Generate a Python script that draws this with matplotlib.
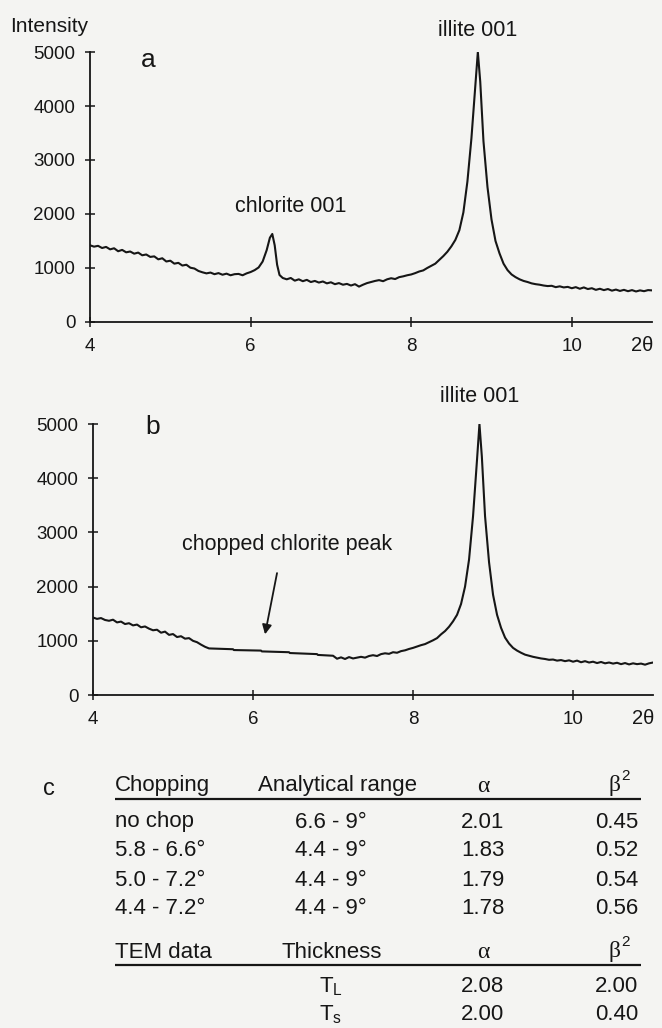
import matplotlib
matplotlib.use('Agg')
import matplotlib.pyplot as plt
from matplotlib.transforms import offset_copy

plt.rcParams['font.family'] = ['Liberation Sans', 'DejaVu Sans']

INK = '#161616'
PAPER = '#f4f4f2'

# panel a: full pattern (2theta, intensity)
two_theta_a = [
    4.00, 4.05, 4.10, 4.15, 4.20, 4.25, 4.30, 4.35, 4.40, 4.45,
    4.50, 4.55, 4.60, 4.65, 4.70, 4.75, 4.80, 4.85, 4.90, 4.95,
    5.00, 5.05, 5.10, 5.15, 5.20, 5.25, 5.30, 5.35, 5.40, 5.45,
    5.50, 5.55, 5.60, 5.65, 5.70, 5.75, 5.80, 5.85, 5.90, 5.95,
    6.00, 6.05, 6.10, 6.15, 6.20, 6.24, 6.27, 6.30, 6.33, 6.36,
    6.40, 6.45, 6.50, 6.55, 6.60, 6.65, 6.70, 6.75, 6.80, 6.85,
    6.90, 6.95, 7.00, 7.05, 7.10, 7.15, 7.20, 7.25, 7.30, 7.35,
    7.40, 7.45, 7.50, 7.55, 7.60, 7.65, 7.70, 7.75, 7.80, 7.85,
    7.90, 7.95, 8.00, 8.05, 8.10, 8.15, 8.20, 8.25, 8.30, 8.35,
    8.40, 8.45, 8.50, 8.55, 8.60, 8.65, 8.70, 8.75, 8.80, 8.83,
    8.86, 8.90, 8.95, 9.00, 9.05, 9.10, 9.15, 9.20, 9.25, 9.30,
    9.35, 9.40, 9.45, 9.50, 9.55, 9.60, 9.65, 9.70, 9.75, 9.80,
    9.85, 9.90, 9.95, 10.00, 10.05, 10.10, 10.15, 10.20, 10.25, 10.30,
    10.35, 10.40, 10.45, 10.50, 10.55, 10.60, 10.65, 10.70, 10.75, 10.80,
    10.85, 10.90, 10.95, 11.00,
]
intensity_a = [
    1420, 1395, 1410, 1370, 1390, 1345, 1365, 1310, 1335, 1290,
    1305, 1265, 1285, 1235, 1250, 1205, 1215, 1160, 1180, 1120,
    1135, 1080, 1095, 1045, 1060, 1005, 990, 945, 920, 900,
    915, 885, 905, 875, 895, 865, 885, 890, 865, 900,
    925, 960, 1010, 1120, 1330, 1560, 1630, 1420, 1060, 870,
    815, 790, 815, 765, 790, 755, 780, 740, 760, 730,
    750, 715, 735, 700, 720, 690, 705, 675, 700, 655,
    690, 720, 740, 760, 775, 755, 790, 810, 795, 830,
    845, 865, 880, 905, 935, 955, 1000, 1040, 1080, 1150,
    1220, 1300, 1400, 1520, 1700, 2030, 2600, 3400, 4400, 5000,
    4450, 3350, 2500, 1900, 1500, 1270, 1080, 960, 880, 830,
    790, 760, 740, 715, 700, 690, 675, 665, 670, 645,
    660, 640, 650, 625, 645, 615, 640, 610, 625, 595,
    615, 590, 610, 580, 600, 575, 595, 570, 590, 565,
    585, 570, 590, 585,
]

# panel b: pattern with chlorite region chopped out (flat steps)
two_theta_b = [
    4.00, 4.05, 4.10, 4.15, 4.20, 4.25, 4.30, 4.35, 4.40, 4.45,
    4.50, 4.55, 4.60, 4.65, 4.70, 4.75, 4.80, 4.85, 4.90, 4.95,
    5.00, 5.05, 5.10, 5.15, 5.20, 5.25, 5.30, 5.35, 5.40, 5.45,
    5.75, 5.76, 6.10, 6.11, 6.45, 6.46, 6.80, 6.81, 7.00, 7.05,
    7.10, 7.15, 7.20, 7.25, 7.30, 7.35, 7.40, 7.45, 7.50, 7.55,
    7.60, 7.65, 7.70, 7.75, 7.80, 7.85, 7.90, 7.95, 8.00, 8.05,
    8.10, 8.15, 8.20, 8.25, 8.30, 8.35, 8.40, 8.45, 8.50, 8.55,
    8.60, 8.65, 8.70, 8.75, 8.80, 8.83, 8.86, 8.90, 8.95, 9.00,
    9.05, 9.10, 9.15, 9.20, 9.25, 9.30, 9.35, 9.40, 9.45, 9.50,
    9.55, 9.60, 9.65, 9.70, 9.75, 9.80, 9.85, 9.90, 9.95, 10.00,
    10.05, 10.10, 10.15, 10.20, 10.25, 10.30, 10.35, 10.40, 10.45, 10.50,
    10.55, 10.60, 10.65, 10.70, 10.75, 10.80, 10.85, 10.90, 10.95, 11.00,
]
intensity_b = [
    1430, 1405, 1420, 1385, 1370, 1390, 1340, 1355, 1310, 1325,
    1285, 1300, 1250, 1265, 1225, 1195, 1205, 1150, 1170, 1110,
    1125, 1070, 1085, 1040, 1050, 1000, 975, 930, 890, 860,
    845, 830, 820, 805, 790, 775, 755, 740, 725, 670,
    695, 665, 700, 675, 690, 705, 690, 720, 735, 720,
    755, 770, 760, 790, 780, 810, 825, 850, 870, 895,
    920, 940, 975, 1010, 1050, 1120, 1180, 1260, 1360, 1480,
    1680, 2000, 2500, 3300, 4350, 5000, 4400, 3300, 2450, 1850,
    1480, 1240, 1060, 950, 870, 820, 780, 745, 725, 705,
    690, 675, 665, 650, 655, 635, 645, 625, 640, 615,
    635, 605, 625, 600, 615, 590, 610, 585, 600, 580,
    595, 570, 590, 565, 585, 570, 580, 560, 585, 600,
]

y_ticks = [0, 1000, 2000, 3000, 4000, 5000]
x_ticks = [4, 6, 8, 10]
x_tick_labels = ['4', '6', '8', '10']

# table c
chop_header = ['Chopping', 'Analytical range', '\u03b1', '\u03b2']
chopping = ['no chop', '5.8 - 6.6\u00b0', '5.0 - 7.2\u00b0', '4.4 - 7.2\u00b0']
analytical_range = ['6.6 - 9\u00b0', '4.4 - 9\u00b0', '4.4 - 9\u00b0', '4.4 - 9\u00b0']
alpha_chop = [2.01, 1.83, 1.79, 1.78]
beta2_chop = [0.45, 0.52, 0.54, 0.56]
tem_header = ['TEM data', 'Thickness', '\u03b1', '\u03b2']
tem_thickness = ['L', 's']
alpha_tem = [2.08, 2.00]
beta2_tem = [2.00, 0.40]


def draw_pattern(ax, two_theta, intensity):
    ax.plot(two_theta, intensity, color=INK, lw=1.5, solid_joinstyle='round')
    ax.set_xlim(4, 11)
    ax.set_ylim(0, 5000)
    ax.set_facecolor('none')
    for side in ['top', 'right']:
        ax.spines[side].set_visible(False)
    for side in ['left', 'bottom']:
        ax.spines[side].set_linewidth(1.3)
        ax.spines[side].set_color(INK)
    ax.set_yticks(y_ticks)
    ax.set_xticks(x_ticks)
    ax.set_xticklabels(x_tick_labels)
    ax.tick_params(axis='both', direction='inout', length=7, width=1.1,
                   colors=INK, labelsize=13.5)
    ax.tick_params(axis='y', pad=7)
    ax.tick_params(axis='x', pad=8)
    ax.annotate('2\u03b8', xy=(10.87, 0), xycoords=('data', 'axes fraction'),
                xytext=(0, -17), textcoords='offset points',
                ha='center', va='center', fontsize=14.5, color=INK)


fig = plt.figure(figsize=(6.62, 10.28), dpi=100, facecolor=PAPER)

ax_a = fig.add_axes([0.136, 0.6868, 0.849, 0.2626])
draw_pattern(ax_a, two_theta_a, intensity_a)
ax_a.text(8.83, 5400, 'illite 001', ha='center', va='center',
          fontsize=15.5, color=INK, clip_on=False)
ax_a.text(6.5, 2130, 'chlorite 001', ha='center', va='center',
          fontsize=15.5, color=INK)
ax_a.text(4.72, 4850, 'a', ha='center', va='center', fontsize=19, color=INK)

ax_b = fig.add_axes([0.1405, 0.3239, 0.846, 0.2636])
draw_pattern(ax_b, two_theta_b, intensity_b)
ax_b.text(8.83, 5500, 'illite 001', ha='center', va='center',
          fontsize=15.5, color=INK, clip_on=False)
ax_b.text(6.42, 2770, 'chopped chlorite peak', ha='center', va='center',
          fontsize=15.5, color=INK)
ax_b.annotate('', xy=(6.15, 1120), xytext=(6.30, 2250),
              arrowprops=dict(arrowstyle='-|>', color=INK, lw=1.3,
                              mutation_scale=14, shrinkA=0, shrinkB=0))
ax_b.text(4.74, 4950, 'b', ha='center', va='center', fontsize=19, color=INK)

fig.text(10 / 662, 1 - 26 / 1028, 'Intensity', ha='left', va='center',
         fontsize=15, color=INK)

# table drawn in pixel coordinates of the page
tab = fig.add_axes([0, 0, 1, 1])
tab.set_xlim(0, 662)
tab.set_ylim(1028, 0)
tab.set_axis_off()

col_left = 115
col_range = 331
col_alpha = 483
col_beta = 638
row_step = 29


def header(y, names, range_left):
    tab.text(col_left, y, names[0], ha='left', va='center', fontsize=16, color=INK)
    tab.text(range_left, y, names[1], ha='left', va='center', fontsize=16, color=INK)
    tab.text(col_alpha, y, names[2], ha='center', va='center', fontsize=17,
             family=['Liberation Serif', 'DejaVu Serif'], color=INK)
    tab.text(col_beta - 24, y, names[3], ha='center', va='center', fontsize=17,
             family=['Liberation Serif', 'DejaVu Serif'], color=INK)
    sup = offset_copy(tab.transData, fig=fig, x=5, y=7, units='points')
    tab.text(col_beta - 24, y, '2', ha='left', va='center', fontsize=11,
             color=INK, transform=sup)
    tab.hlines(y + 13, col_left, 641, color=INK, lw=1.6)


tab.text(49, 789, 'c', ha='center', va='center', fontsize=17, color=INK)

header(786, chop_header, 258)
for i in range(len(chopping)):
    y = 822 + i * row_step
    tab.text(col_left, y, chopping[i], ha='left', va='center', fontsize=16, color=INK)
    tab.text(col_range, y, analytical_range[i], ha='center', va='center',
             fontsize=16, color=INK)
    tab.text(col_alpha, y, f'{alpha_chop[i]:.2f}', ha='center', va='center',
             fontsize=16, color=INK)
    tab.text(col_beta, y, f'{beta2_chop[i]:.2f}', ha='right', va='center',
             fontsize=16, color=INK)

header(952, tem_header, 281)
for i in range(len(tem_thickness)):
    y = 987 + i * 28
    tab.text(col_range, y, 'T$_\\mathregular{' + tem_thickness[i] + '}$',
             ha='center', va='center', fontsize=16, color=INK)
    tab.text(col_alpha, y, f'{alpha_tem[i]:.2f}', ha='center', va='center',
             fontsize=16, color=INK)
    tab.text(col_beta, y, f'{beta2_tem[i]:.2f}', ha='right', va='center',
             fontsize=16, color=INK)

fig.savefig('out.png', dpi=100, facecolor=PAPER)
